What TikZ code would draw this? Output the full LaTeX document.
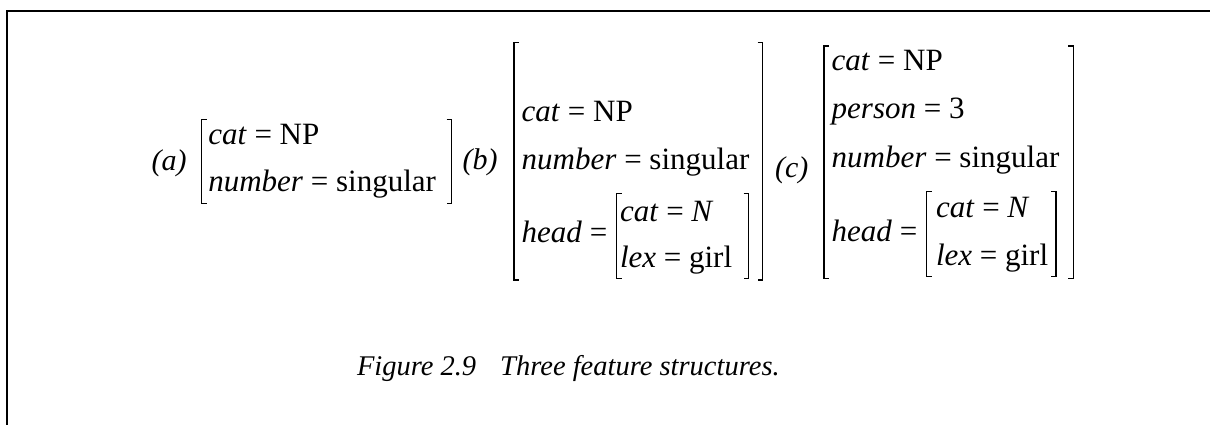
\documentclass[tikz,border=0pt]{standalone}
\usepackage{fontspec}
\setmainfont{Liberation Serif}
\begin{document}
\begin{tikzpicture}[x=1pt,y=-1pt,
  txt/.style={anchor=base west,inner sep=0pt,outer sep=0pt,font=\fontsize{31}{34}\selectfont},
  lbl/.style={anchor=base west,inner sep=0pt,outer sep=0pt,font=\fontsize{30}{32}\selectfont\itshape},
  captxt/.style={anchor=base west,inner sep=0pt,outer sep=0pt,font=\fontsize{28.5}{30}\selectfont\itshape},
  brk/.style={line width=1.2pt},
  frame/.style={line width=1.6pt}]
\useasboundingbox (0,0) rectangle (1210,425);
\draw[frame] (6.7,425) -- (6.7,10.8) -- (1210,10.8);
% left bracket: x, top, bottom ; right bracket
\newcommand\lbrk[3]{\draw[brk] (#1+5,#2) -- (#1,#2) -- (#1,#3) -- (#1+5,#3);}
\newcommand\rbrk[3]{\draw[brk] (#1-5,#2) -- (#1,#2) -- (#1,#3) -- (#1-5,#3);}
% (a)
\node[lbl] (la) at (151.7,170.5) {(a)};
\lbrk{201.7}{119.3}{203.3}
\rbrk{451.7}{119.3}{203.3}
\node[txt] (a1) at (208.3,145) {\textit{cat} = NP};
\node[txt] (a2) at (208.3,191.7) {\textit{number} = singular};
% (b)
\node[lbl] (lb) at (462.7,169) {(b)};
\lbrk{514}{42.7}{280}
\rbrk{762.7}{42.7}{280}
\node[txt] (b1) at (521.7,121.7) {\textit{cat} = NP};
\node[txt] (b2) at (521.7,169) {\textit{number} = singular};
\node[txt] (b3) at (521.7,242.7) {\textit{head} =};
\lbrk{616.7}{193.3}{278.3}
\rbrk{748.7}{193.3}{278.3}
\node[txt] (b4) at (620,221.7) {\textit{cat} = \textit{N}};
\node[txt] (b5) at (620,267) {\textit{lex} = girl};
% (c)
\node[lbl] (lc) at (775,178) {(c)};
\lbrk{824}{46}{278.3}
\rbrk{1073.3}{46}{278.3}
\node[txt] (c1) at (831.7,70.7) {\textit{cat} = NP};
\node[txt] (c2) at (831.7,118.3) {\textit{person} = 3};
\node[txt] (c3) at (831.7,167.3) {\textit{number} = singular};
\node[txt] (c4) at (831.7,241.7) {\textit{head} =};
\lbrk{926.7}{191.7}{276.7}
\rbrk{1056}{191.7}{276.7}
\node[txt] (c5) at (936,217.3) {\textit{cat} = \textit{N}};
\node[txt] (c6) at (936,265) {\textit{lex} = girl};
% caption
\node[captxt] (cap) at (357,375) {Figure 2.9\hspace{24pt}Three feature structures.};
\end{tikzpicture}
\end{document}
